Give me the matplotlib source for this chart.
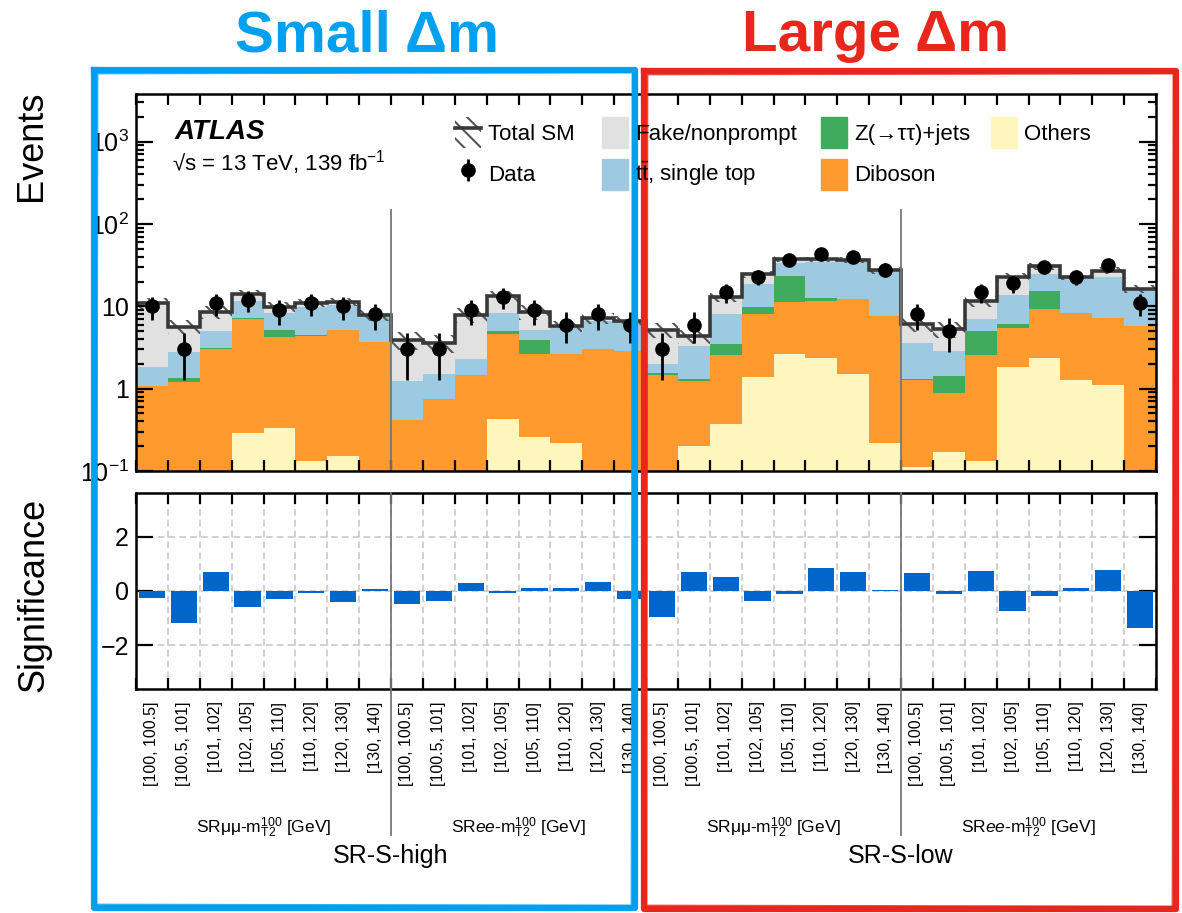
import numpy as np
import matplotlib.pyplot as plt
from matplotlib.patches import Patch
from matplotlib.lines import Line2D
from matplotlib.ticker import LogLocator, NullFormatter

plt.rcParams['font.family'] = ['Liberation Sans', 'DejaVu Sans']
plt.rcParams['mathtext.fontset'] = 'custom'
plt.rcParams['mathtext.rm'] = 'Liberation Sans'
plt.rcParams['mathtext.it'] = 'Liberation Sans:italic'
plt.rcParams['mathtext.bf'] = 'Liberation Sans:bold'
plt.rcParams['hatch.linewidth'] = 1.5

# mT2 bins [GeV], repeated for SRmumu / SRee in SR-S-high and SR-S-low
bin_labels = ['[100, 100.5]', '[100.5, 101]', '[101, 102]', '[102, 105]',
              '[105, 110]', '[110, 120]', '[120, 130]', '[130, 140]'] * 4

# expected yields per sample
others = [0, 0, 0, 0.29, 0.33, 0.13, 0.15, 0,
          0, 0, 0, 0.43, 0.26, 0.22, 0, 0,
          0, 0.20, 0.37, 1.37, 2.63, 2.36, 1.51, 0.22,
          0.11, 0.17, 0.13, 1.83, 2.36, 1.29, 1.10, 0]
diboson = [1.07, 1.21, 3.03, 6.77, 3.87, 4.26, 4.94, 3.68,
           0.42, 0.74, 1.45, 4.21, 2.37, 2.44, 3.05, 2.86,
           1.48, 1.03, 2.21, 6.67, 8.57, 9.34, 10.9, 7.45,
           1.15, 0.72, 2.40, 3.70, 6.92, 6.97, 6.15, 5.85]
ztautau = [0, 0.14, 0.13, 0.24, 1.00, 0.12, 0, 0,
           0, 0, 0, 0.31, 1.29, 0, 0, 0,
           0.07, 0.09, 0.90, 1.86, 12.4, 0.90, 0, 0,
           0.05, 0.55, 2.42, 0.55, 6.12, 0, 0, 0]
ttbar = [0.74, 1.44, 1.89, 4.40, 3.07, 5.27, 5.31, 3.99,
         0.81, 0.78, 0.84, 3.31, 1.27, 3.03, 3.62, 3.64,
         0.46, 1.94, 4.65, 8.90, 9.80, 22.3, 23.3, 18.6,
         2.27, 1.39, 2.11, 7.62, 9.40, 14.3, 15.8, 10.3]
fakes = [9.10, 2.90, 3.60, 2.50, 1.64, 1.32, 1.00, 0.23,
         2.69, 2.06, 5.58, 5.14, 3.46, 0.11, 0.51, 0.20,
         3.18, 1.05, 4.77, 5.80, 4.30, 2.40, 0.90, 1.40,
         2.50, 2.47, 4.64, 9.30, 6.20, 0.40, 4.20, 0.30]
# relative uncertainty on the total SM prediction
sm_unc = [0.15, 0.20, 0.18, 0.12, 0.15, 0.12, 0.12, 0.15,
          0.25, 0.25, 0.20, 0.15, 0.20, 0.15, 0.15, 0.15,
          0.20, 0.20, 0.12, 0.10, 0.08, 0.08, 0.08, 0.10,
          0.20, 0.22, 0.15, 0.12, 0.10, 0.08, 0.10, 0.12]

data = [10, 3, 11, 12, 9, 11, 10, 8,
        3, 3, 9, 13, 9, 6, 8, 6,
        3, 6, 15, 23, 37, 43, 40, 28,
        8, 5, 15, 19, 30, 23, 32, 11]

significance = [-0.26, -1.19, 0.69, -0.57, -0.30, -0.09, -0.42, 0.06,
                -0.49, -0.35, 0.30, -0.06, 0.10, 0.10, 0.32, -0.30,
                -0.96, 0.69, 0.51, -0.35, -0.12, 0.84, 0.69, 0.02,
                0.65, -0.12, 0.73, -0.72, -0.20, 0.10, 0.77, -1.37]

samples = [('Others', others, '#fff6bd'),
           ('Diboson', diboson, '#fe9a2e'),
           ('Z(→ττ)+jets', ztautau, '#41ab5d'),
           (r'$\mathrm{t\bar{t}}$, single top', ttbar, '#9ecae1'),
           ('Fake/nonprompt', fakes, '#e1e1e1')]
colors = {name: c for name, _, c in samples}

nbins = len(data)
edges = np.arange(nbins + 1)
centers = edges[:-1] + 0.5
W, H = 1182, 913

fig = plt.figure(figsize=(W / 100, H / 100), dpi=100)
ax = fig.add_axes([136 / W, 1 - 471 / H, 1020 / W, 377 / H])
ax2 = fig.add_axes([136 / W, 1 - 689 / H, 1020 / W, 196 / H])

# ---- stacked SM backgrounds
ax.set_yscale('log')
bottom = np.full(nbins, 1e-3)
for name, vals, col in samples:
    top = bottom + np.asarray(vals)
    ax.stairs(top, edges, baseline=bottom, fill=True, color=col, lw=0)
    bottom = top
total = bottom

unc = total * np.asarray(sm_unc)
ax.bar(centers, 2 * unc, bottom=total - unc, width=1.0, fill=False,
       hatch='\\\\', edgecolor='#555555', lw=0)
ax.stairs(total, edges, baseline=None, color='#383838', lw=2.6)

eb = ax.errorbar(centers, data, yerr=np.sqrt(data), fmt='o', color='k',
                 ms=9.5, elinewidth=2, capsize=0, zorder=5)

for b in (8, 16, 24):
    ax.plot([b, b], [0.1, 148], color='#777777', lw=1.3)

ax.set_xlim(0, nbins)
ax.set_ylim(0.1, 3800)
ax.set_yticks([0.1, 1, 10, 100, 1000],
              ['$10^{-1}$', '1', '10', '$10^{2}$', '$10^{3}$'])
ax.yaxis.set_minor_locator(LogLocator(subs=np.arange(2, 10)))
ax.yaxis.set_minor_formatter(NullFormatter())
ax.set_xticks(edges)
ax.xaxis.set_major_formatter(NullFormatter())
ax.tick_params(which='both', direction='in', top=True, right=True,
               width=1.6, labelsize=18, pad=5)
ax.tick_params(axis='y', which='major', length=12)
ax.tick_params(axis='y', which='minor', length=6)
ax.tick_params(axis='x', length=8)
for sp in ax.spines.values():
    sp.set_linewidth(1.8)

# ---- significance panel
ax2.bar(centers, significance, width=0.82, color='#0066cc', zorder=3)
ax2.set_xlim(0, nbins)
ax2.set_ylim(-3.6, 3.6)
ax2.set_yticks([-2, 0, 2], ['\u22122', '0', '2'])
ax2.set_xticks(edges)
ax2.xaxis.set_major_formatter(NullFormatter())
ax2.set_xticks(centers, bin_labels, minor=True, rotation=90, fontsize=11.5)
ax2.grid(True, which='major', ls=(0, (4, 2.5)), color='#c8c8c8', lw=1.2)
ax2.set_axisbelow(True)
ax2.tick_params(which='major', direction='in', top=True, right=True,
                width=1.6, labelsize=18, pad=5)
ax2.tick_params(axis='y', length=12)
ax2.tick_params(axis='x', which='major', length=8)
ax2.tick_params(axis='x', which='minor', length=0, pad=9)
for sp in ax2.spines.values():
    sp.set_linewidth(1.8)

xt = ax2.get_xaxis_transform()
for b in (8, 16, 24):
    ax2.plot([b, b], [1, -0.745], transform=xt, color='#777777', lw=1.3,
             clip_on=False, zorder=4)

mumu_lab = r'SR$\mathrm{\mu\mu}$-m$_{\mathrm{T2}}^{100}$ [GeV]'
ee_lab = r'SR$ee$-m$_{\mathrm{T2}}^{100}$ [GeV]'
for x, lab in zip((4, 12, 20, 28), (mumu_lab, ee_lab, mumu_lab, ee_lab)):
    ax2.text(x, -0.71, lab, transform=xt, ha='center', va='center',
             fontsize=12.5)
ax2.text(8, -0.85, 'SR-S-high', transform=xt, ha='center', va='center',
         fontsize=18)
ax2.text(24, -0.85, 'SR-S-low', transform=xt, ha='center', va='center',
         fontsize=18)

# ---- axis titles and labels
fig.text(31 / W, 1 - 146 / H, 'Events', rotation=90, ha='center',
         va='center', fontsize=26)
fig.text(34 / W, 1 - 595 / H, 'Significance', rotation=90, ha='center',
         va='center', fontsize=26)
fig.text(175 / W, 1 - 132 / H, 'ATLAS', fontsize=20, fontweight='bold',
         style='italic', va='center')
fig.text(172 / W, 1 - 163 / H, '√s = 13 TeV, 139 fb$^{-1}$', fontsize=16,
         va='center')

# ---- legend, one block per column
total_handle = (Patch(facecolor='none', edgecolor='#555555', hatch='\\\\', lw=0),
                Line2D([], [], color='#383838', lw=2.6))
columns = [
    (455, [total_handle, eb], ['Total SM', 'Data']),
    (602, [Patch(color=colors['Fake/nonprompt']), Patch(color=colors[samples[3][0]])],
     ['Fake/nonprompt', samples[3][0]]),
    (821, [Patch(color=colors['Z(→ττ)+jets']), Patch(color=colors['Diboson'])],
     ['Z(→ττ)+jets', 'Diboson']),
    (991, [Patch(color=colors['Others'])], ['Others']),
]
for x, handles, labels in columns:
    fig.legend(handles, labels, loc='upper left',
               bbox_to_anchor=(x / W, 1 - 117 / H), frameon=False,
               fontsize=16, handlelength=1.15, handleheight=1.75,
               handletextpad=0.35, labelspacing=0.5, borderpad=0,
               borderaxespad=0)


# ---- region boxes
def box(x0, y0, x1, y1, color):
    xs = np.array([x0, x1, x1, x0, x0]) / W
    ys = 1 - np.array([y0, y0, y1, y1, y0]) / H
    fig.add_artist(Line2D(xs, ys, color=color, lw=4.5,
                          transform=fig.transFigure))
    xs2 = np.array([x0 + 3, x1 - 2, x1 - 3, x0 + 2, x0 + 3]) / W
    ys2 = 1 - np.array([y0 + 3, y0 + 2, y1 - 2, y1 - 3, y0 + 3]) / H
    fig.add_artist(Line2D(xs2, ys2, color=color, lw=2, alpha=0.8,
                          transform=fig.transFigure))


blue, red = '#00a0f0', '#e8261c'
box(94, 70, 635, 908, blue)
box(644, 71, 1176, 909, red)
fig.text(367 / W, 1 - 36 / H, 'Small Δm', color=blue, fontsize=42,
         fontweight='bold', ha='center', va='center')
fig.text(876 / W, 1 - 36 / H, 'Large Δm', color=red, fontsize=42,
         fontweight='bold', ha='center', va='center')

fig.savefig('out.png', dpi=100)
